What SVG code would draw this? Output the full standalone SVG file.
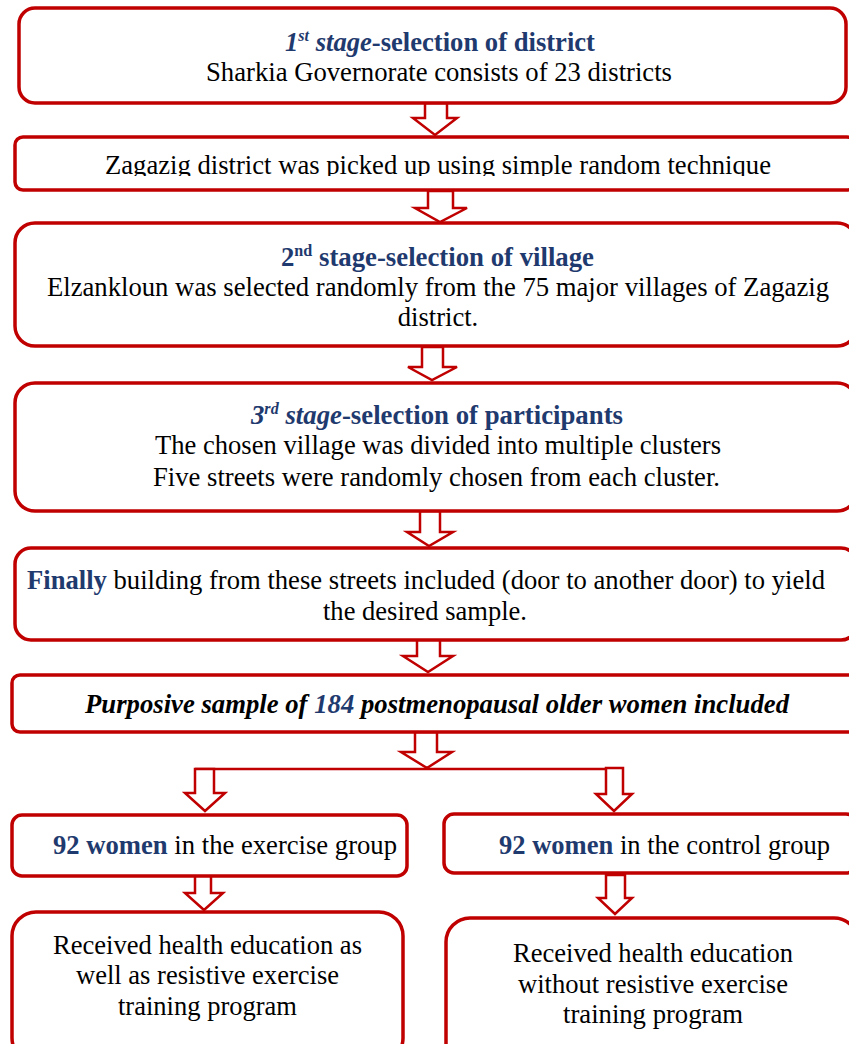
<svg xmlns="http://www.w3.org/2000/svg" width="849" height="1044" viewBox="0 0 849 1044">
<style>
.box{fill:#fff;stroke:#C00000;stroke-width:3.5}
.arr{fill:#fff;stroke:#C00000;stroke-width:2.5;stroke-linejoin:miter}
.ln{fill:none;stroke:#C00000;stroke-width:2.5}
text{font-family:"Liberation Serif","Times New Roman",Times,serif;font-size:26.6px;fill:#000;text-anchor:middle}
.b{font-weight:bold}
.i{font-style:italic}
.blue{fill:#1F3A6E}
.sup{font-size:16px}
</style>
<defs>
<clipPath id="clip2"><rect x="0" y="140" width="849" height="36"/></clipPath>
</defs>
<rect width="849" height="1044" fill="#fff"/>

<g id="connectors">
<path class="arr" d="M425,103 H447 V118 H457 L435,135 L413,118 H425 Z"/>
<path class="arr" d="M428,191 H453 V208 H467 L440,222 L415,208 H428 Z"/>
<path class="arr" d="M422,347 H443 V367 H457 L432,380 L408,367 H422 Z"/>
<path class="arr" d="M420,511 H440 V532 H453 L429,546 L407,532 H420 Z"/>
<path class="arr" d="M417,636 H440 V656 H453 L428,672 L403,656 H417 Z"/>
<path class="arr" d="M415,732 H437 V752 H452 L427,768 L401,752 H415 Z"/>
<path class="ln" d="M195,769 H607"/>
<path class="arr" d="M195,769 H214 V793 H225 L205,811 L185,793 H195 Z"/>
<path class="arr" d="M606,768 H623 V794 H632 L614,811 L596,794 H606 Z"/>
<path class="arr" d="M195,874 H211 V893 H223 L204,910 L185,893 H195 Z"/>
<path class="arr" d="M606,875 H625 V898 H632 L615,914 L598,898 H606 Z"/>
</g>

<g id="stage1">
<rect class="box" x="19" y="8" width="827" height="95" rx="16"/>
<text x="440" y="51" class="b blue" textLength="310" lengthAdjust="spacingAndGlyphs"><tspan class="i">1<tspan class="sup" dy="-10">st</tspan><tspan dy="10"> stage</tspan></tspan>-selection of district</text>
<text x="439" y="81" textLength="466" lengthAdjust="spacingAndGlyphs">Sharkia Governorate consists of 23 districts</text>
</g>

<g id="district">
<rect class="box" x="15" y="137" width="840" height="53" rx="8"/>
<text x="438" y="174" clip-path="url(#clip2)" textLength="666" lengthAdjust="spacingAndGlyphs">Zagazig district was picked up using simple random technique</text>
</g>

<g id="stage2">
<rect class="box" x="15" y="223" width="842" height="123" rx="20"/>
<text x="437.5" y="266" class="b blue" textLength="313" lengthAdjust="spacingAndGlyphs">2<tspan class="sup" dy="-10">nd</tspan><tspan dy="10"> stage-selection of village</tspan></text>
<text x="438" y="296" textLength="782" lengthAdjust="spacingAndGlyphs">Elzankloun was selected randomly from the 75 major villages of Zagazig</text>
<text x="438" y="326">district.</text>
</g>

<g id="stage3">
<rect class="box" x="15" y="383" width="842" height="128" rx="20"/>
<text x="437" y="424" class="b blue" textLength="372" lengthAdjust="spacingAndGlyphs"><tspan class="i">3<tspan class="sup" dy="-10">rd</tspan><tspan dy="10"> stage</tspan></tspan>-selection of participants</text>
<text x="438" y="454" textLength="566" lengthAdjust="spacingAndGlyphs">The chosen village was divided into multiple clusters</text>
<text x="436.5" y="486" textLength="567" lengthAdjust="spacingAndGlyphs">Five streets were randomly chosen from each cluster.</text>
</g>

<g id="finally">
<rect class="box" x="15" y="548" width="842" height="92" rx="16"/>
<text x="426" y="589" textLength="798" lengthAdjust="spacingAndGlyphs"><tspan class="b blue">Finally</tspan> building from these streets included (door to another door) to yield</text>
<text x="425" y="620" textLength="204" lengthAdjust="spacingAndGlyphs">the desired sample.</text>
</g>

<g id="sample">
<rect class="box" x="12" y="675" width="845" height="57" rx="8"/>
<text x="437" y="713" class="b i" textLength="704" lengthAdjust="spacingAndGlyphs">Purposive sample of <tspan class="blue">184</tspan> postmenopausal older women included</text>
</g>

<g id="exercise">
<rect class="box" x="12" y="815" width="395" height="61" rx="10"/>
<text x="225" y="854" textLength="344" lengthAdjust="spacingAndGlyphs"><tspan class="b blue">92 women</tspan> in the exercise group</text>
</g>

<g id="control">
<rect class="box" x="444" y="814" width="412" height="59" rx="10"/>
<text x="664.5" y="854" textLength="331" lengthAdjust="spacingAndGlyphs"><tspan class="b blue">92 women</tspan> in the control group</text>
</g>

<g id="exercise-program">
<rect class="box" x="12" y="912" width="391" height="150" rx="24"/>
<text x="207.5" y="954" textLength="309" lengthAdjust="spacingAndGlyphs">Received health education as</text>
<text x="207.5" y="984" textLength="263" lengthAdjust="spacingAndGlyphs">well as resistive exercise</text>
<text x="207.5" y="1015" textLength="179" lengthAdjust="spacingAndGlyphs">training program</text>
</g>

<g id="control-program">
<rect class="box" x="446" y="918" width="412" height="150" rx="24"/>
<text x="653" y="962" textLength="280" lengthAdjust="spacingAndGlyphs">Received health education</text>
<text x="653" y="993" textLength="270" lengthAdjust="spacingAndGlyphs">without resistive exercise</text>
<text x="653" y="1023" textLength="180" lengthAdjust="spacingAndGlyphs">training program</text>
</g>
</svg>
